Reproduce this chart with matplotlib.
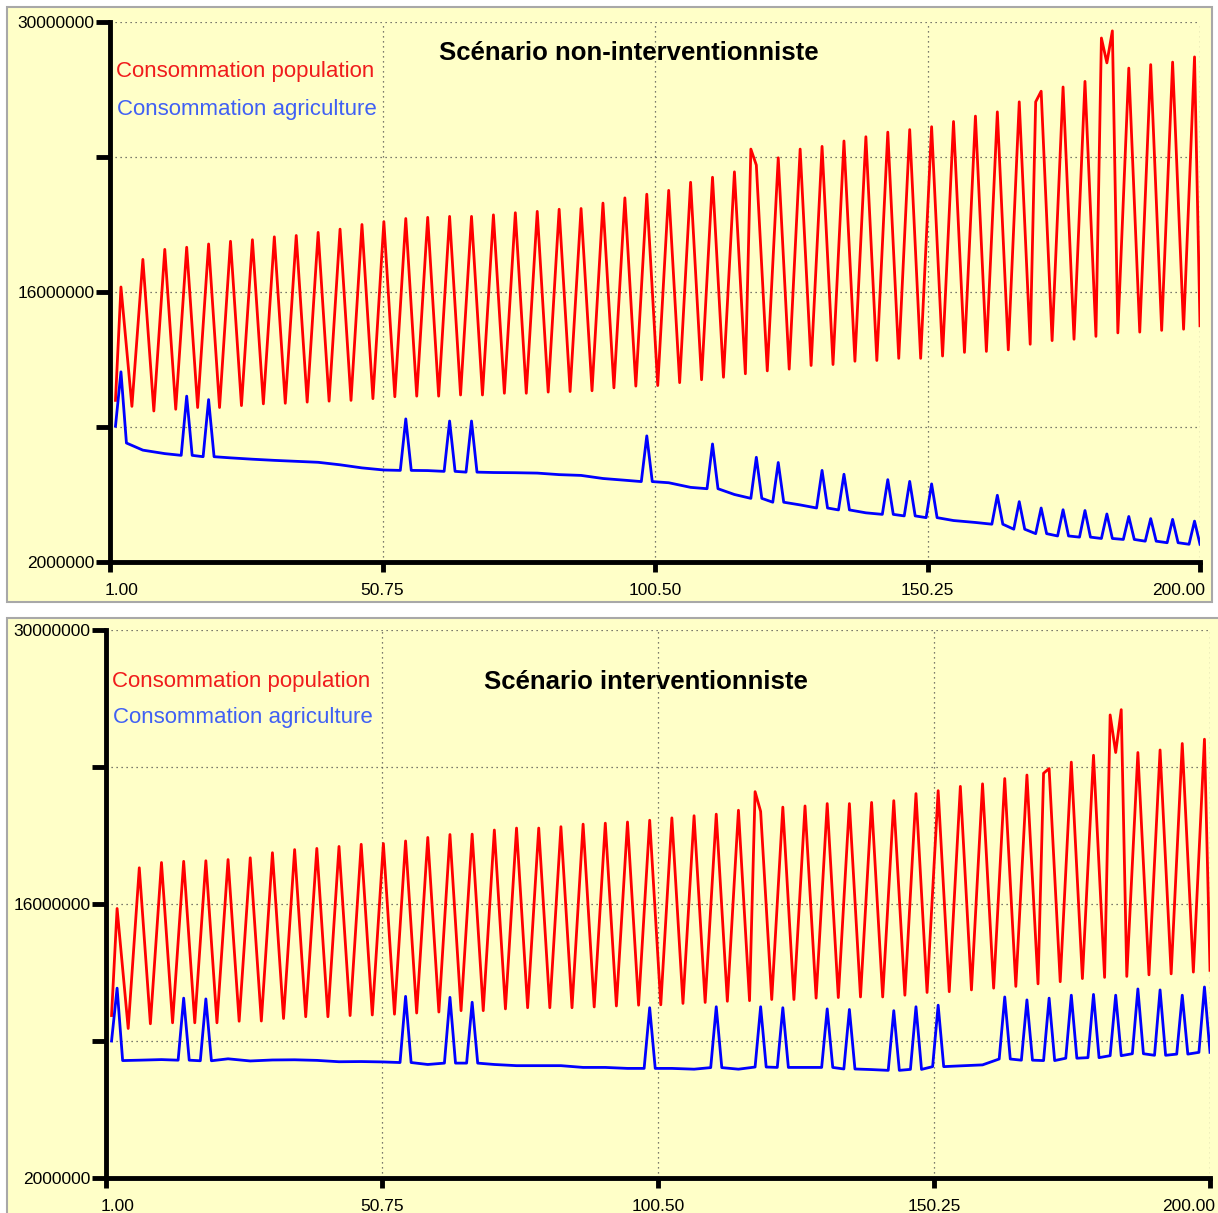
import matplotlib
matplotlib.use("Agg")
import matplotlib.pyplot as plt
from matplotlib.patches import Rectangle
from matplotlib.transforms import ScaledTranslation

plt.rcParams["font.family"] = ["Liberation Sans", "DejaVu Sans"]

# values in millions; red = population, blue = agriculture
# red: peaks at x = 3 + 4k, troughs at x = 5 + 4k
TOP_RED_PEAK = [16.26, 17.69, 18.21, 18.32, 18.49, 18.63, 18.71, 18.86, 18.93, 19.09,
                19.26, 19.50, 19.65, 19.81, 19.87, 19.92, 19.92, 20.00, 20.11, 20.18,
                20.29, 20.33, 20.61, 20.88, 21.07, 21.27, 21.69, 21.95, 22.23, 22.58,
                22.96, 23.41, 23.55, 23.83, 24.05, 24.29, 24.42, 24.57, 24.84, 25.12,
                25.34, 25.86, 26.41, 26.63, 26.92, 27.88, 27.61, 27.79, 27.92, 28.19]
TOP_RED_TROUGH = [10.07, 9.83, 9.92, 10.01, 10.01, 10.11, 10.20, 10.23, 10.29, 10.34,
                  10.38, 10.47, 10.57, 10.60, 10.60, 10.66, 10.66, 10.75, 10.75, 10.81,
                  10.84, 10.88, 11.03, 11.12, 11.15, 11.30, 11.45, 11.58, 11.76, 11.91,
                  12.00, 12.19, 12.24, 12.41, 12.45, 12.56, 12.56, 12.68, 12.87, 12.92,
                  13.00, 13.29, 13.48, 13.55, 13.70, 13.88, 13.92, 14.01, 14.07]
TOP_RED_EXTRA = [(118, 23.41), (170, 25.86), (182, 29.17), (184, 29.54)]
TOP_RED_START, TOP_RED_END = 10.38, 14.25

BOT_RED_PEAK = [15.77, 17.85, 18.12, 18.18, 18.21, 18.27, 18.36, 18.62, 18.78, 18.84,
                18.94, 19.05, 19.09, 19.22, 19.40, 19.55, 19.57, 19.78, 19.88, 19.88,
                19.95, 20.08, 20.13, 20.19, 20.28, 20.40, 20.51, 20.59, 20.79, 20.73,
                20.95, 21.01, 21.13, 21.13, 21.19, 21.28, 21.64, 21.79, 22.01, 22.14,
                22.41, 22.59, 22.92, 23.25, 23.60, 23.74, 23.74, 23.87, 24.20, 24.42]
BOT_RED_TROUGH = [9.64, 9.88, 9.93, 9.93, 9.93, 10.01, 10.02, 10.15, 10.24, 10.24,
                  10.30, 10.33, 10.37, 10.43, 10.48, 10.55, 10.55, 10.64, 10.70, 10.70,
                  10.70, 10.74, 10.79, 10.83, 10.85, 10.92, 10.97, 11.03, 11.06, 11.12,
                  11.12, 11.19, 11.22, 11.25, 11.25, 11.34, 11.48, 11.52, 11.61, 11.70,
                  11.79, 11.92, 12.03, 12.19, 12.25, 12.30, 12.38, 12.43, 12.52]
BOT_RED_EXTRA = [(118, 21.74), (170, 22.68), (182, 25.66), (184, 25.93)]
BOT_RED_START, BOT_RED_END = 10.30, 12.61

# blue: baseline level per cycle, spikes on some cycles
TOP_BLUE_BASE = [8.17, 7.80, 7.62, 7.53, 7.46, 7.40, 7.33, 7.27, 7.22, 7.17,
                 7.04, 6.88, 6.77, 6.75, 6.74, 6.70, 6.66, 6.64, 6.63, 6.61,
                 6.53, 6.49, 6.33, 6.24, 6.17, 6.11, 5.87, 5.80, 5.50, 5.30,
                 5.10, 4.96, 4.80, 4.70, 4.55, 4.47, 4.39, 4.30, 4.15, 4.05,
                 3.96, 3.70, 3.47, 3.35, 3.29, 3.22, 3.17, 3.08, 3.00, 2.92]
BOT_BLUE_BASE = [8.00, 8.02, 8.05, 8.02, 7.99, 8.09, 7.98, 8.03, 8.04, 8.01,
                 7.94, 7.95, 7.93, 7.90, 7.80, 7.87, 7.87, 7.80, 7.74, 7.74,
                 7.74, 7.65, 7.65, 7.60, 7.60, 7.60, 7.56, 7.64, 7.56, 7.67,
                 7.65, 7.65, 7.65, 7.57, 7.54, 7.50, 7.55, 7.69, 7.73, 7.78,
                 8.08, 8.02, 8.00, 8.12, 8.15, 8.25, 8.35, 8.27, 8.33, 8.42]
SPIKE_CYCLES = [0, 3, 4, 13, 15, 16, 24, 27, 29, 30, 32, 33, 35, 36, 37,
                40, 41, 42, 43, 44, 45, 46, 47, 48, 49]
TOP_BLUE_SPIKE = [11.86, 10.60, 10.42, 9.42, 9.31, 9.31, 8.54, 8.12, 7.43, 7.16, 6.75, 6.55, 6.27,
                  6.18, 6.05, 5.46, 5.13, 4.80, 4.71, 4.67, 4.49, 4.36, 4.25, 4.21, 4.12]
BOT_BLUE_SPIKE = [11.70, 11.19, 11.15, 11.28, 11.23, 10.98, 10.70, 10.75, 10.75, 10.70, 10.64, 10.61, 10.55,
                  10.75, 10.83, 11.25, 11.10, 11.19, 11.34, 11.38, 11.34, 11.66, 11.61, 11.34, 11.76]
TOP_BLUE_START, TOP_BLUE_END = 9.04, 2.87
BOT_BLUE_START, BOT_BLUE_END = 9.00, 8.42

X_TICKS = [1, 50.75, 100.5, 150.25, 200]
X_LABELS = ["1.00", "50.75", "100.50", "150.25", "200.00"]
Y_TICKS = [2, 9, 16, 23, 30]
Y_LABELS = ["2000000", "", "16000000", "", "30000000"]
TITLES = ["Scénario non-interventionniste", "Scénario interventionniste"]
LEGEND = ["Consommation population", "Consommation agriculture"]

SCALE = 1e6
BG = "#ffffc8"
RED = "#ff0000"
BLUE = "#0000ff"

W, H = 1218, 1213


def fx(px):
    return px / W


def fy(py):
    return 1 - py / H


def red_series(start, peaks, troughs, extras, end):
    pts = [(2, start)]
    pts += [(3 + 4 * k, v) for k, v in enumerate(peaks)]
    pts += [(5 + 4 * k, v) for k, v in enumerate(troughs)]
    pts += extras
    pts.append((200, end))
    pts.sort()
    return [p[0] for p in pts], [p[1] * SCALE for p in pts]


def blue_series(start, base, spikes, end):
    spike_of = dict(zip(SPIKE_CYCLES, spikes))
    pts = [(2, start)]
    for k, b in enumerate(base):
        p = 3 + 4 * k
        if k in spike_of:
            if p - 1 > 2:
                pts.append((p - 1, b))
            pts.append((p, spike_of[k]))
            pts.append((p + 1, b))
        else:
            pts.append((p, b))
    if pts[-1][0] < 200:
        pts.append((200, end))
    return [p[0] for p in pts], [p[1] * SCALE for p in pts]


def draw_panel(fig, frame, box, title, title_xy, leg_xy, red, blue, label_shift):
    fx0, fy0, fx1, fy1 = frame
    fig.patches.append(Rectangle((fx(fx0), fy(fy1)), fx(fx1) - fx(fx0), fy(fy0) - fy(fy1),
                                 transform=fig.transFigure, facecolor=BG,
                                 edgecolor="#a8a8a8", lw=1.5, zorder=-10))
    left, top, right, bottom = box
    ax = fig.add_axes([fx(left), fy(bottom), fx(right) - fx(left), fy(top) - fy(bottom)])
    ax.set_facecolor("none")
    ax.set_zorder(2)

    ax.plot(*red, color=RED, lw=2.0, zorder=3)
    ax.plot(*blue, color=BLUE, lw=2.0, zorder=3)

    ax.set_xlim(1, 200)
    ax.set_ylim(2 * SCALE, 30 * SCALE)
    ax.set_xticks(X_TICKS)
    ax.set_xticklabels(X_LABELS)
    ax.set_yticks([v * SCALE for v in Y_TICKS])
    ax.set_yticklabels(Y_LABELS)
    ax.tick_params(axis="y", direction="out", length=10, width=3.5, pad=1,
                   labelsize=12.5, colors="black")
    ax.tick_params(axis="x", direction="out", length=7, width=3.5, pad=8,
                   labelsize=12.5, colors="black")
    labels = ax.get_xticklabels()
    labels[0].set_ha("left")
    labels[0].set_transform(labels[0].get_transform()
                            + ScaledTranslation(-label_shift / 100, 0, fig.dpi_scale_trans))
    labels[-1].set_ha("right")
    labels[-1].set_transform(labels[-1].get_transform()
                             + ScaledTranslation(label_shift / 100, 0, fig.dpi_scale_trans))

    ax.grid(True, linestyle=(0, (1, 3)), color="#505050", lw=0.9)
    for side in ["top", "right"]:
        ax.spines[side].set_visible(False)
    for side in ["left", "bottom"]:
        ax.spines[side].set_linewidth(3.5)
        ax.spines[side].set_color("black")
        ax.spines[side].set_zorder(4)

    fig.text(fx(title_xy[0]), fy(title_xy[1]), title, fontsize=18.5, fontweight="bold",
             ha="center", va="center", zorder=5)
    fig.text(fx(leg_xy[0]), fy(leg_xy[1]), LEGEND[0], fontsize=16, color="#f01c1c",
             ha="left", va="center", zorder=5)
    fig.text(fx(leg_xy[0] + 1), fy(leg_xy[1] + 37), LEGEND[1], fontsize=16, color="#4060f4",
             ha="left", va="center", zorder=5)
    return ax


fig = plt.figure(figsize=(W / 100, H / 100), dpi=100)
fig.patch.set_facecolor("white")

draw_panel(fig, (7, 7, 1212, 602), (110, 22, 1200, 562), TITLES[0], (629, 53), (116, 72),
           red_series(TOP_RED_START, TOP_RED_PEAK, TOP_RED_TROUGH, TOP_RED_EXTRA, TOP_RED_END),
           blue_series(TOP_BLUE_START, TOP_BLUE_BASE, TOP_BLUE_SPIKE, TOP_BLUE_END), 5)
draw_panel(fig, (7, 618, 1222, 1220), (106, 630, 1210, 1178), TITLES[1], (646, 682), (112, 681),
           red_series(BOT_RED_START, BOT_RED_PEAK, BOT_RED_TROUGH, BOT_RED_EXTRA, BOT_RED_END),
           blue_series(BOT_BLUE_START, BOT_BLUE_BASE, BOT_BLUE_SPIKE, BOT_BLUE_END), 5)

fig.savefig("out.png", dpi=100)
